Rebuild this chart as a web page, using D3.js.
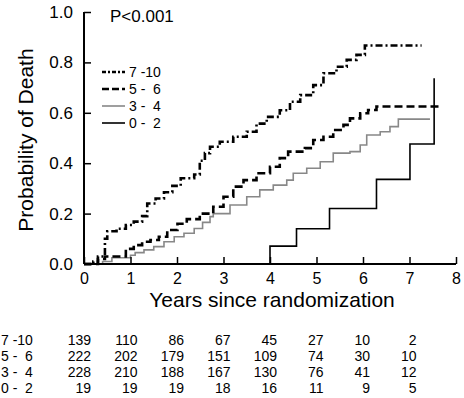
<!DOCTYPE html>
<html>
<head>
<meta charset="utf-8">
<script src="https://cdn.jsdelivr.net/npm/d3@7"></script>
<style>
  body { margin: 0; background: #fff; }
  text { font-family: "Liberation Sans", Arial, sans-serif; fill: #000; }
</style>
</head>
<body>
<div id="chart"></div>
<script>
// ---------------- data ----------------
var groups = ["7 -10", "5 -  6", "3 -  4", "0 -  2"]
var tableLabels = ["7 -10", "5 -  6", "3 -  4", "0 -  2"]

// Kaplan-Meier steps: [years, probability of death]
var km710 = [[0,0],[0.2,0.01],[0.3,0.03],[0.45,0.1],[0.5,0.13],[0.7,0.14],[0.9,0.155],[1.07,0.168],[1.25,0.19],[1.36,0.24],[1.54,0.26],[1.72,0.285],[1.9,0.31],[2.08,0.34],[2.37,0.355],[2.49,0.41],[2.6,0.44],[2.71,0.465],[2.92,0.485],[3.21,0.505],[3.5,0.525],[3.71,0.557],[3.93,0.584],[4.21,0.61],[4.43,0.644],[4.65,0.67],[4.93,0.71],[5.15,0.757],[5.43,0.783],[5.65,0.81],[5.86,0.83],[6.04,0.867],[7.26,0.867]]
var km56 = [[0,0],[0.3,0.02],[0.45,0.03],[0.9,0.06],[1.07,0.075],[1.25,0.088],[1.43,0.095],[1.61,0.108],[1.79,0.135],[2.01,0.16],[2.21,0.178],[2.49,0.2],[2.78,0.227],[3.0,0.267],[3.21,0.307],[3.43,0.333],[3.71,0.36],[4.0,0.386],[4.21,0.42],[4.39,0.446],[4.75,0.46],[4.93,0.492],[5.15,0.505],[5.36,0.532],[5.58,0.552],[5.72,0.578],[5.94,0.598],[6.11,0.611],[6.29,0.625],[7.69,0.625]]
var km34 = [[0,0],[0.4,0.01],[0.6,0.025],[1.0,0.035],[1.1,0.045],[1.29,0.056],[1.5,0.069],[1.72,0.088],[1.94,0.108],[2.15,0.122],[2.37,0.141],[2.55,0.165],[2.71,0.188],[2.78,0.2],[3.14,0.234],[3.5,0.267],[3.78,0.294],[4.07,0.313],[4.36,0.333],[4.5,0.36],[4.79,0.38],[5.08,0.406],[5.36,0.44],[5.72,0.446],[5.94,0.472],[6.08,0.512],[6.37,0.525],[6.58,0.545],[6.76,0.575],[7.44,0.575]]
var km02 = [[0,0],[4.0,0.071],[4.57,0.14],[5.28,0.22],[6.29,0.336],[7.01,0.476],[7.53,0.737]]

// numbers at risk, years 0..7
var risk710 = [139, 110, 86, 67, 45, 27, 10, 2]
var risk56 = [222, 202, 179, 151, 109, 74, 30, 10]
var risk34 = [228, 210, 188, 167, 130, 76, 41, 12]
var risk02 = [19, 19, 19, 18, 16, 11, 9, 5]

var xTicks = [0, 1, 2, 3, 4, 5, 6, 7, 8]
var yTicks = [0, 0.2, 0.4, 0.6, 0.8, 1.0]

// ---------------- layout ----------------
var W = 464, H = 398
var svg = d3.select("#chart").append("svg")
  .attr("width", W)
  .attr("height", H)

var x = d3.scaleLinear().domain([0, 8]).range([84, 456])
var y = d3.scaleLinear().domain([0, 1]).range([264, 12])

var styles = [
  { data: km710, color: "#000", width: 2.6, dash: "7,3,2,3" },
  { data: km56,  color: "#000", width: 2.6, dash: "8,4" },
  { data: km34,  color: "#888", width: 1.6, dash: null },
  { data: km02,  color: "#000", width: 1.6, dash: null }
]

var line = d3.line()
  .x(d => x(d[0]))
  .y(d => y(d[1]))
  .curve(d3.curveStepAfter)

// curves (draw 0-2 first so it sits under the others)
styles.slice().reverse().forEach(s => {
  svg.append("path")
    .datum(s.data)
    .attr("d", line)
    .attr("fill", "none")
    .attr("stroke", s.color)
    .attr("stroke-width", s.width)
    .attr("stroke-dasharray", s.dash)
})

// axes
var xAxis = d3.axisBottom(x).tickValues(xTicks).tickSize(-7).tickPadding(9)
  .tickFormat(d3.format("d"))
var gx = svg.append("g").attr("transform", "translate(0," + y(0) + ")").call(xAxis)
gx.select(".domain").attr("stroke-width", 2).attr("d", "M" + x(0) + ",0H" + x(8))
gx.selectAll(".tick line").attr("stroke-width", 1.5)
gx.selectAll("text").attr("font-size", 16).attr("font-family", null)

var yAxis = d3.axisLeft(y).tickValues(yTicks).tickSize(-7).tickPadding(11)
  .tickFormat(d3.format(".1f"))
var gy = svg.append("g").attr("transform", "translate(" + x(0) + ",0)").call(yAxis)
gy.select(".domain").attr("stroke-width", 2).attr("d", "M0," + y(0) + "V" + y(1))
gy.selectAll(".tick line").attr("stroke-width", 1.5)
gy.selectAll("text").attr("font-size", 17).attr("font-family", null)

svg.append("text")
  .attr("x", 272).attr("y", 307)
  .attr("text-anchor", "middle")
  .attr("font-size", 21)
  .text("Years since randomization")

svg.append("text")
  .attr("transform", "translate(33,140) rotate(-90)")
  .attr("text-anchor", "middle")
  .attr("font-size", 21)
  .text("Probability of Death")

svg.append("text")
  .attr("x", 110).attr("y", 22)
  .attr("font-size", 17)
  .text("P<0.001")

// legend
var legend = svg.append("g")
groups.forEach((g, i) => {
  var s = styles[i]
  var ly = 72 + i * 17
  legend.append("line")
    .attr("x1", 102).attr("x2", 125)
    .attr("y1", ly).attr("y2", ly)
    .attr("stroke", s.color)
    .attr("stroke-width", s.width)
    .attr("stroke-dasharray", s.dash ? (i === 0 ? "4,2,2,2" : "7,3") : null)
  legend.append("text")
    .attr("x", 129).attr("y", ly).attr("dy", "0.35em")
    .attr("font-size", 14)
    .style("white-space", "pre")
    .text(g)
})

// numbers at risk table
var riskRows = [risk710, risk56, risk34, risk02]
riskRows.forEach((row, i) => {
  var by = 345 + i * 16
  svg.append("text")
    .attr("x", 1).attr("y", by)
    .attr("font-size", 14)
    .style("white-space", "pre")
    .text(tableLabels[i])
  svg.selectAll(null).data(row).enter().append("text")
    .attr("x", (d, j) => x(j) + 7)
    .attr("y", by)
    .attr("text-anchor", "end")
    .attr("font-size", 14)
    .text(d => d)
})
</script>
</body>
</html>
